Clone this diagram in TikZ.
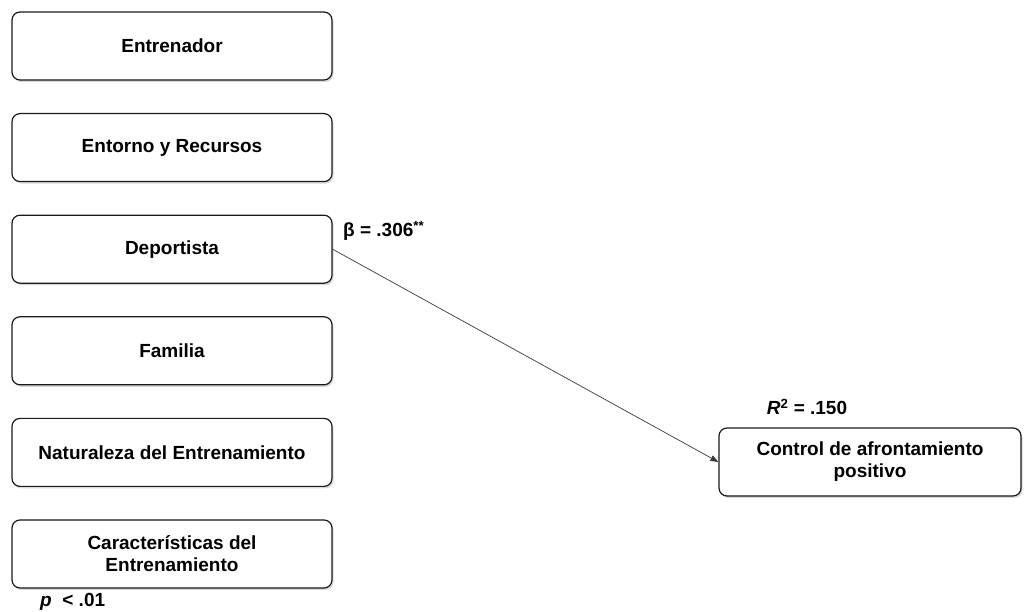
\documentclass[tikz,border=0pt]{standalone}
\usepackage{fontspec}
\setmainfont{Liberation Sans}
\usetikzlibrary{arrows.meta,positioning,shadows}
\definecolor{boxline}{HTML}{1A1A1A}
\definecolor{arrline}{HTML}{3A3A3A}

\begin{document}
\begin{tikzpicture}[x=1pt,y=1pt,node distance=32.4pt,
 var/.style={draw=boxline,line width=1.2pt,fill=white,rounded corners=8pt,
  font=\fontsize{19}{22}\selectfont\bfseries,minimum width=320pt,minimum height=68pt,align=center,
  drop shadow={shadow xshift=1.5pt,shadow yshift=-2pt,opacity=0.3}},
 outc/.style={var,minimum width=302pt},
 lbl/.style={font=\fontsize{19}{22}\selectfont\bfseries,inner sep=0pt},
 lin/.style={-{Triangle[length=8pt,width=6pt]},arrline,line width=0.7pt}]
\useasboundingbox (0,0) rectangle (1031,612);
\node[var] at (172,566) (ent) {Entrenador};
\node[var,below=of ent] (rec) {Entorno y Recursos};
\node[var,below=of rec] (dep) {Deportista};
\node[var,below=of dep] (fam) {Familia};
\node[var,below=of fam] (nat) {Naturaleza del Entrenamiento};
\node[var,below=of nat] (car) {Características del\\Entrenamiento};
\node[outc] at (870,150) (ctrl) {Control de afrontamiento\\positivo};
\draw[lin] (dep.east) -- (ctrl.west);
\node[lbl,anchor=west] at (343,381) (beta) {β = .306\textsuperscript{**}};
\node[lbl] at (807,205) (rsq) {\textit{R}\textsuperscript{2} = .150};
\node[lbl,anchor=west] at (40,10) (sig) {\textit{p}\ \ < .01};
\end{tikzpicture}
\end{document}
